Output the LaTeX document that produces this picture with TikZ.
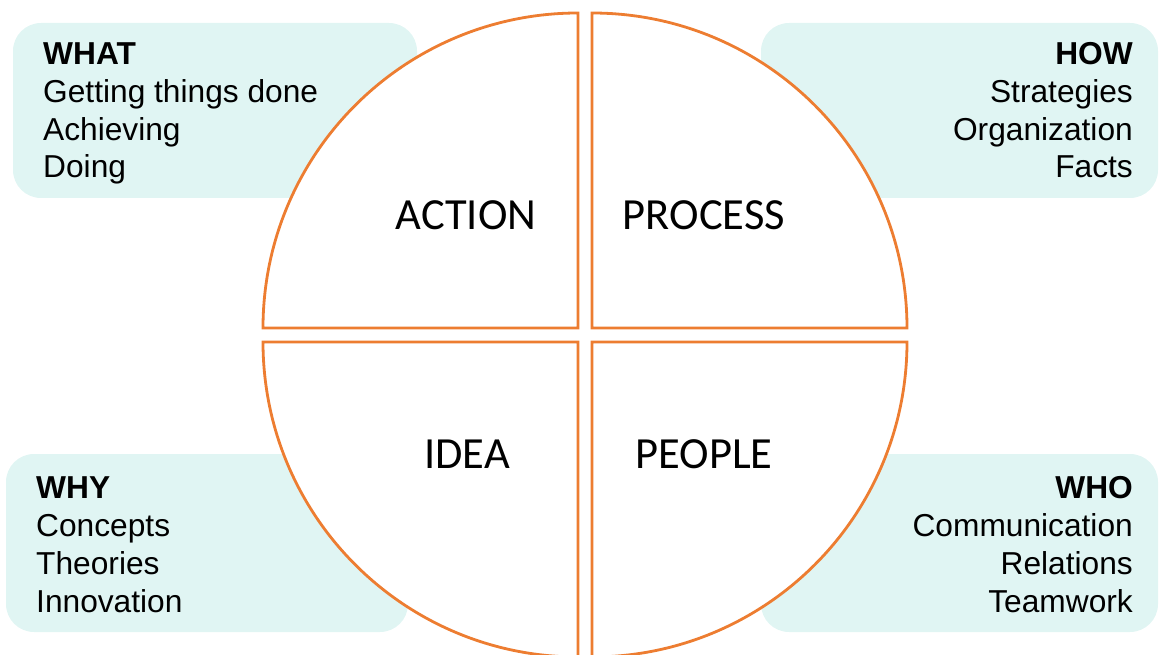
\documentclass[tikz,border=0pt]{standalone}
\usepackage{fontspec}
\setmainfont{Liberation Sans}
\newfontfamily\carlito{Carlito}
\definecolor{quadline}{RGB}{237,125,49}
\definecolor{boxfill}{RGB}{224,245,243}
\begin{document}
\begin{tikzpicture}[x=1pt,y=1pt,
  infobox/.style={fill=boxfill,draw=none,rounded corners=28pt},
  quad/.style={draw=quadline,line width=2.8pt,fill=white,line join=miter},
  side/.style={inner sep=0pt,font=\fontsize{31.7}{37.8}\selectfont},
  center/.style={inner sep=0pt,anchor=base,font=\carlito\fontsize{44.5}{50}\selectfont}]
\useasboundingbox (0,0) rectangle (1159,654);
% side boxes
\fill[infobox] (13,456) rectangle (417,631);
\fill[infobox] (761,456) rectangle (1158,631);
\fill[infobox] (6,22) rectangle (408,200);
\fill[infobox] (761,22) rectangle (1158,200);
% quadrants
\begin{scope}
\clip (0,0) rectangle (1159,654);
\draw[quad] (578,326) -- (263,326) arc[start angle=180,end angle=90,radius=315] -- cycle;
\draw[quad] (592,326) -- (592,641) arc[start angle=90,end angle=0,radius=315] -- cycle;
\draw[quad] (578,312) -- (263,312) arc[start angle=180,end angle=270,radius=315] -- cycle;
\draw[quad] (592,312) -- (907,312) arc[start angle=0,end angle=-90,radius=315] -- cycle;
\end{scope}
% center labels
\node[center] (action) at (466,424) {ACTION};
\node[center] (process) at (704,424) {PROCESS};
\node[center] (idea) at (467,186) {IDEA};
\node[center] (people) at (704,186) {PEOPLE};
% side texts (base anchor = baseline of last line)
\node[side,anchor=base west,align=left] (what) at (43,476)
  {\textbf{WHAT}\\Getting things done\\Achieving\\Doing};
\node[side,anchor=base east,align=right] (how) at (1133,476)
  {\textbf{HOW}\\Strategies\\Organization\\Facts};
\node[side,anchor=base west,align=left] (why) at (36,42)
  {\textbf{WHY}\\Concepts\\Theories\\Innovation};
\node[side,anchor=base east,align=right] (who) at (1133,42)
  {\textbf{WHO}\\Communication\\Relations\\Teamwork};
\end{tikzpicture}
\end{document}
